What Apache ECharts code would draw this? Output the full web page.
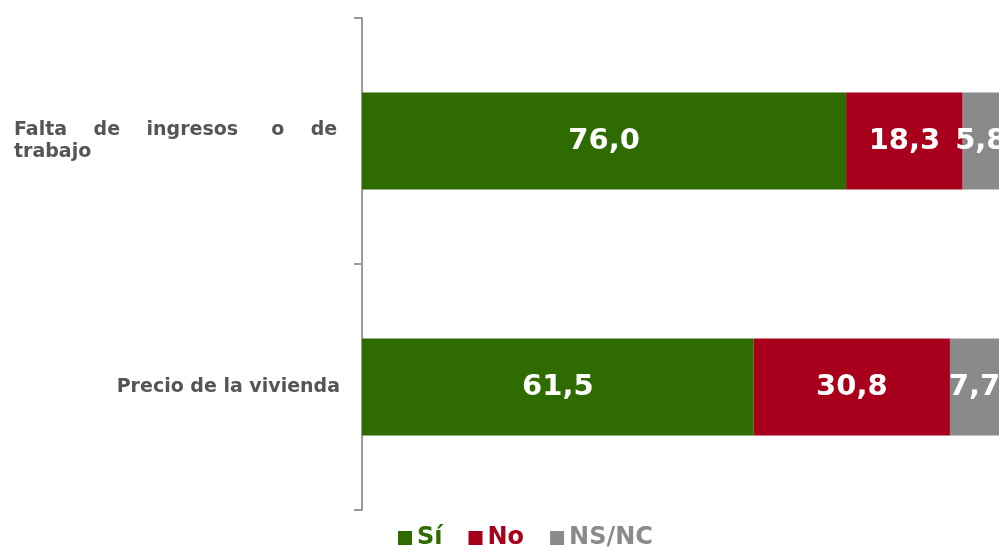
<!DOCTYPE html>
<html><head><meta charset="utf-8">
<script src="https://cdn.jsdelivr.net/npm/echarts@6/dist/echarts.min.js"></script>
<style>html,body{margin:0;padding:0;background:#fff}#c{width:1006px;height:552px}</style>
</head><body><div id="c"></div>
<script>
const categories = ['Falta de ingresos o de trabajo', 'Precio de la vivienda'];
const siValues = [76.0, 61.5];
const noValues = [18.3, 30.8];
const nsncValues = [5.8, 7.7];
const seriesNames = ['Sí', 'No', 'NS/NC'];
const colors = ['#2e6b00', '#a8001c', '#8a8a8a'];

const chart = echarts.init(document.getElementById('c'));
const fmt = p => p.value.toFixed(1).replace('.', ',');
function mk(name, data, color) {
  return {
    name, type: 'bar', stack: 'all', data, barWidth: 97,
    itemStyle: { color },
    label: { show: true, position: 'inside', formatter: fmt, color: '#fff',
      fontFamily: 'DejaVu Sans', fontWeight: 'bold', fontSize: 29 }
  };
}
chart.setOption({
  animation: false,
  grid: { left: 362, right: 7, top: 18, bottom: 42, containLabel: false },
  xAxis: { type: 'value', min: 0, max: 100, show: false },
  yAxis: {
    type: 'category', data: categories, inverse: true,
    axisLine: { show: true, lineStyle: { color: '#9a9a9a', width: 2 } },
    axisTick: { show: true, length: 8, lineStyle: { color: '#9a9a9a', width: 2 } },
    axisLabel: {
      margin: 22, color: '#555', fontFamily: 'DejaVu Sans', fontWeight: 'bold', fontSize: 19,
      lineHeight: 22,
      formatter: v => v === categories[0]
        ? '{l|Falta    de    ingresos     o    de}\n{l|trabajo}'
        : v,
      rich: { l: { width: 326, align: 'left', color: '#555', fontFamily: 'DejaVu Sans', fontWeight: 'bold', fontSize: 19, lineHeight: 22 } },
      align: 'right'
    }
  },
  legend: {
    top: 521, left: 393, itemWidth: 14, itemHeight: 14, itemGap: 26,
    icon: 'rect',
    data: seriesNames.map((n, i) => ({ name: n, textStyle: { color: colors[i] } })),
    textStyle: { fontFamily: 'DejaVu Sans', fontSize: 24, fontWeight: 'bold' }
  },
  series: [
    mk(seriesNames[0], siValues, colors[0]),
    mk(seriesNames[1], noValues, colors[1]),
    mk(seriesNames[2], nsncValues, colors[2])
  ]
});
</script></body></html>
